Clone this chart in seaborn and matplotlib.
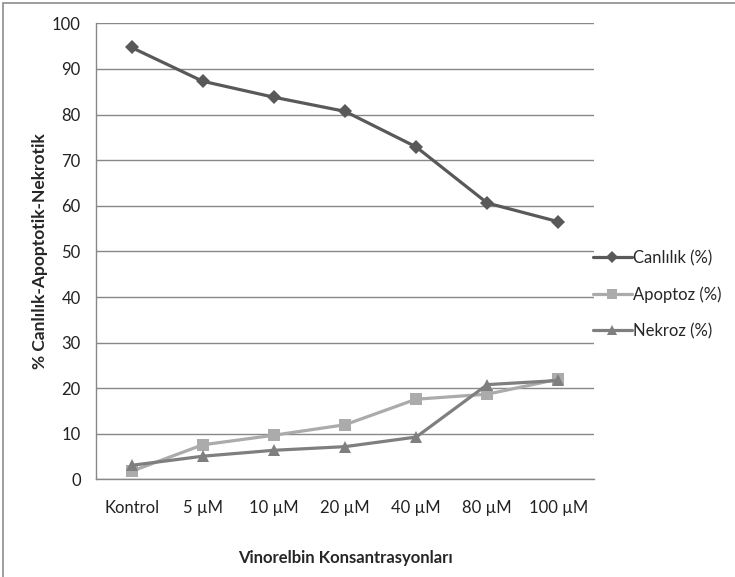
import pandas as pd
import seaborn as sns
import matplotlib.pyplot as plt
from matplotlib.patches import Rectangle
from matplotlib.lines import Line2D

konsantrasyon = ["Kontrol", "5 µM", "10 µM", "20 µM", "40 µM", "80 µM", "100 µM"]
canlilik = [94.7, 87.3, 83.8, 80.7, 72.9, 60.6, 56.5]
apoptoz = [1.8, 7.6, 9.7, 12.0, 17.6, 18.7, 22.0]
nekroz = [3.1, 5.1, 6.4, 7.2, 9.3, 20.8, 21.7]
seri_adlari = ["Canlılık (%)", "Apoptoz (%)", "Nekroz (%)"]

df = pd.DataFrame({
    "konsantrasyon": konsantrasyon * 3,
    "deger": canlilik + apoptoz + nekroz,
    "seri": [s for s in seri_adlari for _ in konsantrasyon],
})

sns.set_style("white")
plt.rcParams["font.family"] = ["Lato", "DejaVu Sans"]

renkler = {"Canlılık (%)": "#595959", "Apoptoz (%)": "#ababab", "Nekroz (%)": "#7f7f7f"}
isaretler = {"Canlılık (%)": "D", "Apoptoz (%)": "s", "Nekroz (%)": "^"}
boyut = {"Canlılık (%)": 7, "Apoptoz (%)": 8.5, "Nekroz (%)": 9}

fig = plt.figure(figsize=(7.35, 5.77), dpi=100)
ax = fig.add_axes([0.1306, 0.169, 0.6776, 0.7906])

sns.lineplot(data=df, x="konsantrasyon", y="deger", hue="seri", style="seri",
             palette=renkler, markers=isaretler, dashes=False, lw=2.3,
             markeredgewidth=0, legend=False, ax=ax)
for line, s in zip(ax.lines, seri_adlari):
    line.set_markersize(boyut[s])

ax.set_xlim(-0.5, 6.5)
ax.set_ylim(0, 100)
ax.set_yticks(range(0, 101, 10))
ax.set_xticks(range(len(konsantrasyon)))
ax.set_xticklabels(konsantrasyon)
ax.set_xticks([-0.5, 6.5], minor=True)
ax.yaxis.grid(True, color="#888888", lw=1)
ax.set_axisbelow(True)
for side in ["top", "right"]:
    ax.spines[side].set_visible(False)
for side in ["left", "bottom"]:
    ax.spines[side].set_color("#888888")
    ax.spines[side].set_linewidth(1)
ax.tick_params(axis="both", which="both", direction="out", length=5, width=1,
               color="#888888", labelsize=12, labelcolor="#222222", pad=6)
ax.tick_params(axis="x", pad=10)

ax.set_xlabel("Vinorelbin Konsantrasyonları", fontsize=12, fontweight="bold")
ax.set_ylabel("% Canlılık-Apoptotik-Nekrotik", fontsize=12.5, fontweight="bold")
ax.xaxis.set_label_coords(0.5, -0.155)
ax.yaxis.set_label_coords(-0.097, 0.5)

handles = [Line2D([], [], color=renkler[s], marker=isaretler[s], lw=2.3,
                  markersize=boyut[s] * 0.85, markeredgewidth=0) for s in seri_adlari]
fig.legend(handles, seri_adlari, loc="upper left", bbox_to_anchor=(0.798, 0.578),
           frameon=False, fontsize=12, handlelength=2.3, handletextpad=0.1,
           labelspacing=1.2, borderaxespad=0)

fig.patches.append(Rectangle((3 / 735, -0.1), 1.2, 1.1 - 3 / 577, transform=fig.transFigure,
                             fill=False, edgecolor="#8c8c8c", lw=1.2))

fig.savefig("out.png", dpi=100)
